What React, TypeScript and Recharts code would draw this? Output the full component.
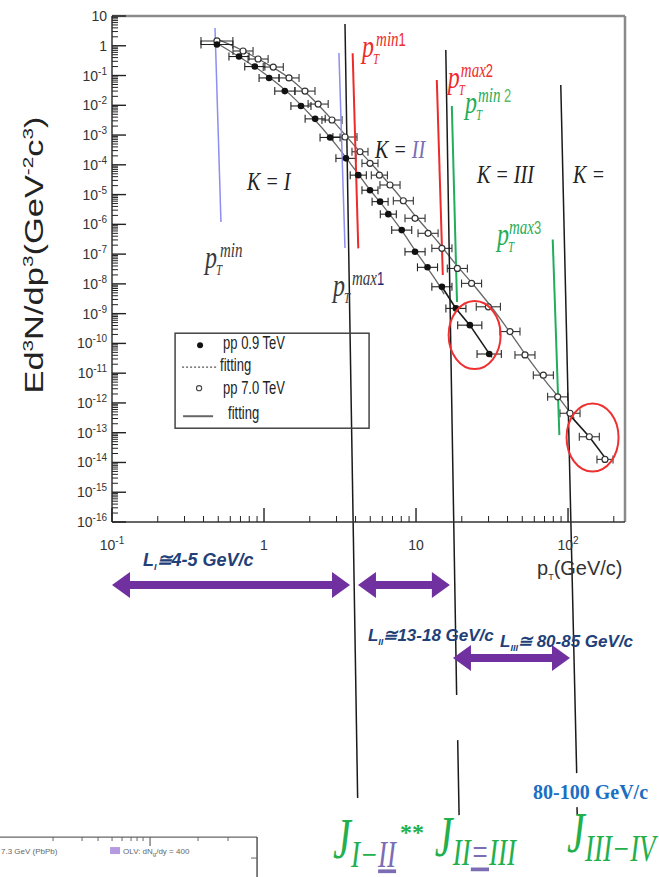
import React from 'react';
import {
  ComposedChart,
  Scatter,
  Line,
  XAxis,
  YAxis,
  ErrorBar,
  ReferenceLine,
  ReferenceDot,
} from 'recharts';

// ---------- measured invariant yields ----------
// pp 0.9 TeV (filled circles)
const pt09 = [0.49, 0.685, 0.87, 1.08, 1.37, 1.75, 2.17, 2.72, 3.46, 4.17, 4.98, 5.8, 6.57, 8.05, 9.85, 11.9, 14.8, 18.3, 22.6, 30.3];
const yield09 = [1.1, 0.435, 0.2, 0.083, 0.03, 0.0095, 0.0035, 8.3e-4, 1.65e-4, 4.5e-5, 1.4e-5, 5.8e-6, 2.2e-6, 6.4e-7, 1.2e-7, 3.6e-8, 8e-9, 1.5e-9, 4.1e-10, 4.4e-11];
const binLo09 = [0.385, 0.588, 0.747, 0.928, 1.177, 1.503, 1.864, 2.337, 2.972, 3.69, 4.41, 5.14, 5.82, 6.92, 8.46, 10.22, 12.71, 15.72, 18.8, 25.2];
const binHi09 = [0.624, 0.797, 1.013, 1.257, 1.595, 2.037, 2.526, 3.166, 4.027, 4.71, 5.62, 6.55, 7.42, 9.37, 11.47, 13.85, 17.23, 21.3, 27.1, 36.4];

// pp 7.0 TeV (open circles)
const pt7 = [0.49, 0.728, 0.914, 1.15, 1.46, 1.86, 2.27, 2.8, 3.41, 4.28, 4.98, 5.74, 6.74, 8.25, 9.85, 12.0, 14.8, 18.7, 23.2, 29.9, 41.5, 52.1, 68.8, 85.5, 103, 138, 175];
const yield7 = [1.45, 0.667, 0.359, 0.193, 0.083, 0.03, 0.011, 3.2e-3, 8.6e-4, 2.75e-4, 1.12e-4, 4.5e-5, 2.1e-5, 6.2e-6, 1.6e-6, 5.0e-7, 1.56e-7, 3.3e-8, 1.04e-8, 1.7e-9, 2.5e-10, 4.1e-11, 8.6e-12, 1.6e-12, 4.5e-13, 7.3e-14, 1.27e-14];
const binLo7 = [0.385, 0.625, 0.785, 0.988, 1.254, 1.598, 1.95, 2.405, 2.84, 3.79, 4.41, 5.08, 5.79, 7.09, 8.46, 10.31, 12.71, 16.06, 19.93, 24.9, 35.65, 44.76, 59.1, 73.4, 88.5, 118.6, 155];
const binHi7 = [0.624, 0.847, 1.064, 1.339, 1.7, 2.165, 2.643, 3.26, 4.09, 4.83, 5.62, 6.48, 7.85, 9.6, 11.47, 13.97, 17.23, 21.77, 27.0, 35.9, 48.3, 60.6, 80.1, 99.5, 119.9, 160.6, 197.6];

// ---------- fitted curves ----------
const fitPt09 = [0.5, 0.7, 1.0, 1.5, 2.0, 3.0, 4.0, 5.0, 6.0, 8.0, 10, 12, 14, 15.3];
const fitY09 = [1.15, 0.4, 0.12, 0.022, 5e-3, 4.5e-4, 6.5e-5, 1.4e-5, 4.5e-6, 6.5e-7, 1.2e-7, 3.2e-8, 1.0e-8, 4.5e-9];
const fitPt7 = [0.5, 0.7, 1.0, 1.5, 2.0, 3.0, 4.0, 5.0, 6.0, 8.0, 10, 14, 18, 25, 35, 50, 70, 90, 110];
const fitY7 = [1.6, 0.75, 0.28, 0.075, 0.02, 2.2e-3, 4e-4, 1.2e-4, 4.2e-5, 7.5e-6, 1.8e-6, 2.5e-7, 5e-8, 7e-9, 8e-10, 6e-11, 6e-12, 1.2e-12, 3e-13];
// steep high-pT tails (highlighted by the circles)
const tailPt09 = [14.8, 18.3, 22.6, 31.5];
const tailY09 = [8e-9, 1.5e-9, 4.1e-10, 3.4e-11];
const tailPt7 = [98, 138, 180];
const tailY7 = [5.1e-13, 7.3e-14, 1.2e-14];

// ---------- axes ----------
const X_DOMAIN: [number, number] = [0.1, 237];
const Y_DOMAIN: [number, number] = [1e-16, 10];
const xExponents = [-1, 0, 1, 2];
const yExponents = [-16, -15, -14, -13, -12, -11, -10, -9, -8, -7, -6, -5, -4, -3, -2, -1, 0, 1];
const minorSteps = [2, 3, 4, 5, 6, 7, 8, 9];
const xTicks = xExponents.flatMap((e) =>
  e < 2 ? [10 ** e, ...minorSteps.map((m) => m * 10 ** e)] : [10 ** e, 2 * 10 ** e]
);
const yTicks = yExponents.flatMap((e) =>
  e < 1 ? [10 ** e, ...minorSteps.map((m) => m * 10 ** e)] : [10 ** e]
);

// ---------- annotation layout (in pT, yield units) ----------
type P = [number, number];
const frameLines: { from: P; to: P }[] = [
  { from: [0.1, 10], to: [237, 10] },
  { from: [237, 10], to: [237, 1e-16] },
];
const cutLines: { from: P; to: P; color: string; w: number }[] = [
  { from: [0.476, 3.95], to: [0.521, 1.2e-6], color: '#8c8ef0', w: 1.5 },
  { from: [3.11, 0.57], to: [3.41, 1.6e-7], color: '#8c8ef0', w: 1.5 },
  { from: [3.83, 0.558], to: [4.17, 1.56e-7], color: '#ee2b2b', w: 2 },
  { from: [13.7, 0.0707], to: [15.0, 1.98e-8], color: '#ee2b2b', w: 2 },
  { from: [17.2, 9.5e-3], to: [18.6, 2.45e-9], color: '#22ad5c', w: 2 },
  { from: [79.3, 3.1e-7], to: [87.7, 8.3e-14], color: '#22ad5c', w: 2 },
  { from: [3.41, 5.4], to: [4.13, 5.3e-26], color: '#1a1a1a', w: 1.5 },
  { from: [15.7, 0.72], to: [18.5, 1.53e-22], color: '#1a1a1a', w: 1.5 },
  { from: [18.8, 4.7e-24], to: [19.2, 1.42e-26], color: '#1a1a1a', w: 1.5 },
  { from: [89.6, 0.048], to: [114, 3.66e-25], color: '#1a1a1a', w: 1.5 },
  { from: [114.5, 2.64e-26], to: [115, 1.42e-26], color: '#1a1a1a', w: 1.5 },
];
const rangeArrows: { from: P; to: P }[] = [
  { from: [0.1, 7.6e-19], to: [3.68, 7.6e-19] },
  { from: [4.15, 7.6e-19], to: [16.7, 7.6e-19] },
  { from: [17.5, 2.7e-21], to: [103, 2.7e-21] },
];
const circles: P[] = [
  [24.3, 1.9e-10],
  [145, 6.9e-14],
];

const SERIF = '"Liberation Serif", "Times New Roman", serif';
const SANS = '"Liberation Sans", Arial, sans-serif';
const RED = '#ee2b2b';
const GREEN = '#24ad58';
const JGREEN = '#22b04d';
const LAVENDER = '#7b6db3';
const NAVY = '#223f78';
const PURPLE = '#7030a0';

// ---------- tick renderers ----------
const isMajor = (v: number) => Math.abs(Math.log10(v) - Math.round(Math.log10(v))) < 1e-6;
const powerLabel = (v: number, supSize: number) => {
  const e = Math.round(Math.log10(v));
  if (e === 0) return '1';
  if (e === 1) return '10';
  return (
    <>
      10
      <tspan dy={-6} fontSize={supSize}>
        {e}
      </tspan>
    </>
  );
};

const YTick = (p: any) => {
  const v = p.payload.value;
  const major = isMajor(v);
  return (
    <g>
      <line x1={p.x} x2={p.x + (major ? 14 : 6)} y1={p.y} y2={p.y} stroke="#222" strokeWidth={major ? 1.4 : 1} />
      {major && (
        <text x={p.x - 5} y={p.y + 5} textAnchor="end" fontFamily={SANS} fontSize={14} fill="#333">
          {powerLabel(v, 10)}
        </text>
      )}
    </g>
  );
};

const XTick = (p: any) => {
  const v = p.payload.value;
  const major = isMajor(v);
  return (
    <g>
      <line x1={p.x} x2={p.x} y1={p.y} y2={p.y - (major ? 14 : 6)} stroke="#222" strokeWidth={major ? 1.4 : 1} />
      {major && (
        <text x={p.x} y={p.y + 28} textAnchor="middle" fontFamily={SANS} fontSize={14} fill="#333">
          {powerLabel(v, 10)}
        </text>
      )}
    </g>
  );
};

// ---------- markers ----------
const FilledDot = (p: any) => <circle cx={p.cx} cy={p.cy} r={3.3} fill="#111" />;
const OpenDot = (p: any) => <circle cx={p.cx} cy={p.cy} r={3} fill="#fff" stroke="#333" strokeWidth={1.2} />;

const arrowShape = (p: any) => {
  const { x1, y1, x2 } = p;
  const y = y1;
  const hl = 18;
  const hh = 13;
  const st = 4;
  const pts = [
    [x1, y], [x1 + hl, y - hh], [x1 + hl, y - st], [x2 - hl, y - st], [x2 - hl, y - hh],
    [x2, y], [x2 - hl, y + hh], [x2 - hl, y + st], [x1 + hl, y + st], [x1 + hl, y + hh],
  ];
  return <polygon points={pts.map((q) => q.join(',')).join(' ')} fill={PURPLE} />;
};

// p_T^{...} cut label
const pLabel = (sup: string, idx: string, color: string, idxColor: string, supDx: number) => (p: any) => (
  <g transform={`translate(${p.cx},${p.cy}) scale(1,1.35)`} fontFamily={SERIF} fontStyle="italic" fill={color}>
    <text x={0} y={0} fontSize={24}>p</text>
    <text x={11} y={5} fontSize={11}>T</text>
    <text x={supDx} y={-8} fontSize={15}>
      {sup}
      <tspan fill={idxColor} fontStyle="normal" fontFamily={SANS} fontSize={13}>{idx}</tspan>
    </text>
  </g>
);

const kLabel = (content: React.ReactNode) => (p: any) => (
  <text transform={`translate(${p.cx},${p.cy}) scale(1,1.3)`} fontFamily={SERIF} fontStyle="italic" fontSize={20} fill="#222">
    {content}
  </text>
);

const jLabel = (sub: React.ReactNode, extra?: React.ReactNode) => (p: any) => (
  <g transform={`translate(${p.cx},${p.cy})`} fontFamily={SERIF} fontStyle="italic" fill={JGREEN}>
    <text transform="scale(1,1.4)" fontSize={40}>J</text>
    <text transform="translate(18,9) scale(1,1.38)" fontSize={27}>{sub}</text>
    {extra}
  </g>
);

const lText = (main: string, sub: string, rest: string, size: number) => (p: any) => (
  <text x={p.cx} y={p.cy} fontFamily={SANS} fontStyle="italic" fontWeight="bold" fontSize={size} fill={NAVY}>
    {main}
    <tspan dy={4} fontSize={9}>{sub}</tspan>
    <tspan dy={-4}>{rest}</tspan>
  </text>
);

const legendShape = (p: any) => (
  <g transform={`translate(${p.cx},${p.cy})`}>
    <rect x={0} y={0} width={194} height={95} fill="none" stroke="#444" strokeWidth={1.5} />
    <circle cx={25} cy={12} r={3} fill="#111" />
    <line x1={7} x2={42} y1={34} y2={34} stroke="#555" strokeWidth={1.3} strokeDasharray="2 2" />
    <circle cx={24} cy={55} r={2.6} fill="#fff" stroke="#444" strokeWidth={1.1} />
    <line x1={8} x2={38} y1={83} y2={83} stroke="#666" strokeWidth={2} />
    <g fontFamily={SANS} fontSize={13} fill="#222">
      <text transform="translate(48,16) scale(1,1.35)">pp 0.9 TeV</text>
      <text transform="translate(45,38) scale(1,1.35)">fitting</text>
      <text transform="translate(48,61) scale(1,1.35)">pp 7.0 TeV</text>
      <text transform="translate(53,86) scale(1,1.35)">fitting</text>
    </g>
  </g>
);

const yTitleShape = (p: any) => (
  <text
    transform={`translate(${p.cx},${p.cy}) rotate(-90) scale(1.38,1)`}
    textAnchor="middle"
    fontFamily={SANS}
    fontSize={25}
    fill="#222"
  >
    Ed<tspan dy={-10} fontSize={15}>3</tspan>
    <tspan dy={10}>N/dp</tspan>
    <tspan dy={-10} fontSize={15}>3</tspan>
    <tspan dy={10}>(GeV</tspan>
    <tspan dy={-10} fontSize={15}>-2</tspan>
    <tspan dy={10}>c</tspan>
    <tspan dy={-10} fontSize={15}>3</tspan>
    <tspan dy={10}>)</tspan>
  </text>
);

const xTitleShape = (p: any) => (
  <text x={p.cx} y={p.cy} fontFamily={SANS} fontSize={20} fill="#333">
    p<tspan dy={5} fontSize={9}>T</tspan>
    <tspan dy={-5}>(GeV/c)</tspan>
  </text>
);

const ellipseShape = (p: any) => (
  <ellipse cx={p.cx} cy={p.cy} rx={26} ry={34} fill="none" stroke="#ee3030" strokeWidth={2} />
);

// fragment of a neighbouring panel along the bottom edge
const fragmentTicks = [-204, -175, -159, -145, -135, -126, -120, -114, -59, -29];
const fragmentShape = (p: any) => (
  <g transform={`translate(${p.cx},${p.cy})`}>
    <line x1={-p.cx} x2={0} y1={0} y2={0} stroke="#666" strokeWidth={1.2} />
    <line x1={0} x2={0} y1={0} y2={45} stroke="#555" strokeWidth={1.5} />
    {fragmentTicks.map((t) => (
      <line key={t} x1={t} x2={t} y1={0} y2={4} stroke="#666" strokeWidth={1} />
    ))}
    <line x1={-107} x2={-107} y1={0} y2={9} stroke="#666" strokeWidth={1.2} />
    <line x1={-6} x2={0} y1={21} y2={21} stroke="#666" strokeWidth={1} />
    <text x={-p.cx + 1} y={17} fontFamily={SANS} fontSize={8} fill="#666">7.3 GeV (PbPb)</text>
    <rect x={-147} y={10} width={10} height={7} fill="#b59ae0" />
    <text x={-134} y={17} fontFamily={SANS} fontSize={8} fill="#666">
      OLV: dN<tspan dy={2} fontSize={6}>g</tspan>
      <tspan dy={-2}>/dy = 400</tspan>
    </text>
  </g>
);

type Note = { at: P; shape: (p: any) => React.ReactElement };
const notes: Note[] = [
  { at: [0.409, 3.4e-8], shape: pLabel('min', '', '#3a3a3a', '#3a3a3a', 15) },
  { at: [2.84, 3.9e-9], shape: pLabel('max', '1', '#3a3a3a', '#1d2a80', 19) },
  { at: [4.42, 0.419], shape: pLabel('min', '1', RED, RED, 14) },
  { at: [16.2, 0.0381], shape: pLabel('max', '2', RED, RED, 13) },
  { at: [21.0, 5.5e-3], shape: pLabel('min', ' 2', GREEN, '#5cb85c', 13) },
  { at: [34.1, 2.0e-7], shape: pLabel('max', '3', GREEN, '#4caf50', 12) },
  { at: [0.773, 1.42e-5], shape: kLabel('K = I') },
  { at: [5.37, 1.69e-4], shape: kLabel(<>K = <tspan fill={LAVENDER}>II</tspan></>) },
  { at: [25.2, 2.45e-5], shape: kLabel('K = III') },
  { at: [108, 2.45e-5], shape: kLabel('K =') },
  { at: [0.26, 2.2e-10], shape: legendShape },
  { at: [0.0352, 9.3e-8], shape: yTitleShape },
  { at: [62.5, 1.65e-18], shape: xTitleShape },
  { at: [0.16, 3.3e-18], shape: lText('L', 'I', '≅4-5 GeV/c', 18) },
  { at: [4.83, 1.0e-20], shape: lText('L', 'II', '≅13-18 GeV/c', 17) },
  { at: [35.7, 6.3e-21], shape: lText('L', 'III', '≅ 80-85 GeV/c', 17) },
  {
    at: [58.9, 4.9e-26],
    shape: (p: any) => (
      <text x={p.cx} y={p.cy} fontFamily={SERIF} fontWeight="bold" fontSize={20} fill="#1b6ec2">
        80-100 GeV/c
      </text>
    ),
  },
  {
    at: [2.84, 5.1e-28],
    shape: jLabel(
      <>
        I−<tspan fill={LAVENDER} textDecoration="underline">II</tspan>
      </>,
      <text x={67} y={-18} fontSize={24} fontWeight="bold" fontStyle="normal">**</text>
    ),
  },
  {
    at: [13.3, 5.9e-28],
    shape: jLabel(
      <>
        II<tspan fill={LAVENDER} textDecoration="underline">=</tspan>III
      </>
    ),
  },
  { at: [98.4, 8.1e-28], shape: jLabel('III−IV') },
  { at: [0.9, 2.6e-27], shape: fragmentShape },
];

export default function App() {
  const rows09 = pt09.map((x, i) => ({ x, y: yield09[i], ex: [x - binLo09[i], binHi09[i] - x] }));
  const rows7 = pt7.map((x, i) => ({ x, y: yield7[i], ex: [x - binLo7[i], binHi7[i] - x] }));
  const fit09 = fitPt09.map((x, i) => ({ x, y: fitY09[i] }));
  const fit7 = fitPt7.map((x, i) => ({ x, y: fitY7[i] }));
  const tail09 = tailPt09.map((x, i) => ({ x, y: tailY09[i] }));
  const tail7 = tailPt7.map((x, i) => ({ x, y: tailY7[i] }));

  return (
    <div style={{ position: 'absolute', left: 0, top: 0, width: 659, height: 877, background: '#fff' }}>
      <ComposedChart width={659} height={877} margin={{ top: 16, right: 34, bottom: 325, left: 52 }}>
        <XAxis
          dataKey="x"
          type="number"
          scale="log"
          domain={X_DOMAIN}
          allowDataOverflow
          ticks={xTicks}
          interval={0}
          tickSize={0}
          tickMargin={0}
          tickLine={false}
          tick={XTick}
          axisLine={{ stroke: '#333', strokeWidth: 1.5 }}
          height={30}
        />
        <YAxis
          dataKey="y"
          type="number"
          scale="log"
          domain={Y_DOMAIN}
          allowDataOverflow
          ticks={yTicks}
          interval={0}
          tickSize={0}
          tickMargin={0}
          tickLine={false}
          tick={YTick}
          axisLine={{ stroke: '#333', strokeWidth: 1.5 }}
          width={60}
        />

        {frameLines.map((l, i) => (
          <ReferenceLine
            key={`frame${i}`}
            segment={[{ x: l.from[0], y: l.from[1] }, { x: l.to[0], y: l.to[1] }]}
            stroke="#8a8a8a"
            strokeWidth={2.5}
            ifOverflow="visible"
          />
        ))}

        <Line data={fit7} dataKey="y" type="monotone" stroke="#666" strokeWidth={1.3} dot={false} isAnimationActive={false} />
        <Line data={fit09} dataKey="y" type="monotone" stroke="#666" strokeWidth={1.3} dot={false} isAnimationActive={false} />
        <Line data={tail09} dataKey="y" type="linear" stroke="#1a1a1a" strokeWidth={1.6} dot={false} isAnimationActive={false} />
        <Line data={tail7} dataKey="y" type="linear" stroke="#1a1a1a" strokeWidth={1.6} dot={false} isAnimationActive={false} />

        <Scatter name="pp 7.0 TeV" data={rows7} shape={OpenDot} isAnimationActive={false}>
          <ErrorBar dataKey="ex" direction="x" width={4} stroke="#333" strokeWidth={1.1} />
        </Scatter>
        <Scatter name="pp 0.9 TeV" data={rows09} shape={FilledDot} isAnimationActive={false}>
          <ErrorBar dataKey="ex" direction="x" width={4} stroke="#222" strokeWidth={1.1} />
        </Scatter>

        {cutLines.map((l, i) => (
          <ReferenceLine
            key={`cut${i}`}
            segment={[{ x: l.from[0], y: l.from[1] }, { x: l.to[0], y: l.to[1] }]}
            stroke={l.color}
            strokeWidth={l.w}
            ifOverflow="visible"
          />
        ))}
        {rangeArrows.map((a, i) => (
          <ReferenceLine
            key={`arrow${i}`}
            segment={[{ x: a.from[0], y: a.from[1] }, { x: a.to[0], y: a.to[1] }]}
            shape={arrowShape}
            ifOverflow="visible"
          />
        ))}
        {circles.map((c, i) => (
          <ReferenceDot key={`circle${i}`} x={c[0]} y={c[1]} r={0} shape={ellipseShape} ifOverflow="visible" />
        ))}
        {notes.map((n, i) => (
          <ReferenceDot key={`note${i}`} x={n.at[0]} y={n.at[1]} r={0} shape={n.shape} ifOverflow="visible" />
        ))}
      </ComposedChart>
    </div>
  );
}
